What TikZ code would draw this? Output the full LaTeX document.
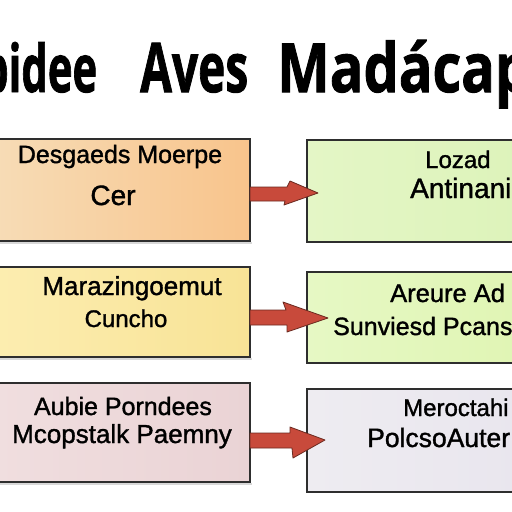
\documentclass[tikz,border=0pt]{standalone}
\usepackage{fontspec}
\setmainfont{Liberation Sans}[FakeBold=1.3]
\newfontfamily\titlefont{Open Sans}[FakeBold=1.5]
\usepackage{graphicx}
\definecolor{boxline}{HTML}{2E2E2E}
\definecolor{orL}{HTML}{F7DCB6}
\definecolor{orR}{HTML}{F8C48C}
\definecolor{grA}{HTML}{E4F6C6}
\definecolor{grB}{HTML}{DDF3BA}
\definecolor{yeL}{HTML}{FCEDB0}
\definecolor{yeR}{HTML}{F8E396}
\definecolor{gr2A}{HTML}{E6F8C4}
\definecolor{gr2B}{HTML}{E0F5B4}
\definecolor{piL}{HTML}{F0DEDF}
\definecolor{piR}{HTML}{EAD3D5}
\definecolor{laA}{HTML}{EEECF1}
\definecolor{laB}{HTML}{E9E6EE}
\definecolor{arrfill}{HTML}{C84A3B}
\definecolor{arrline}{HTML}{6B2A20}
\definecolor{shadowc}{HTML}{D8D8D8}
\begin{document}
\begin{tikzpicture}[x=1pt,y=-1pt,
  box/.style={draw=boxline, line width=1.3pt, inner sep=0pt, outer sep=0pt, anchor=north west},
  shadowline/.style={draw=shadowc, line width=2pt},
  blockarrow/.style={fill=arrfill, draw=arrline, line width=0.8pt, line join=round},
  txt/.style={inner sep=0pt, anchor=base, text=black},
  rtxt/.style={inner sep=0pt, anchor=base west, text=black},
  ttl/.style={inner sep=0pt, anchor=base west, text=black}]
\useasboundingbox (0,0) rectangle (512,512);
\clip (0,0) rectangle (512,512);
\fill[white] (0,0) rectangle (512,512);
% title
\node[ttl] (t1) at (-18,92) {\resizebox{115pt}{50pt}{\titlefont\bfseries bidee}};
\node[ttl] (t2) at (140,92) {\resizebox{108pt}{49pt}{\titlefont\bfseries Aves}};
\node[ttl] (t3) at (277,92) {\resizebox{253pt}{52pt}{\titlefont\bfseries Madácap}};
% boxes
\node[box, left color=orL, right color=orR, minimum width=255pt, minimum height=102pt] (l1) at (-5,139) {};
\node[box, left color=grA, right color=grB, minimum width=215pt, minimum height=102pt] (r1) at (307,140) {};
\node[box, left color=yeL, right color=yeR, minimum width=255pt, minimum height=90pt] (l2) at (-5,267) {};
\node[box, left color=gr2A, right color=gr2B, minimum width=215pt, minimum height=91pt] (r2) at (307,272) {};
\node[box, left color=piL, right color=piR, minimum width=255pt, minimum height=99pt] (l3) at (-5,383) {};
\node[box, left color=laA, right color=laB, minimum width=215pt, minimum height=103pt] (r3) at (307,389) {};
% faint shadows under the left boxes
\draw[shadowline] ([yshift=-2pt]l1.south west) -- ([yshift=-2pt,xshift=2pt]l1.south east);
\draw[shadowline] ([yshift=-2pt]l2.south west) -- ([yshift=-2pt,xshift=2pt]l2.south east);
\draw[shadowline] ([yshift=-2pt]l3.south west) -- ([yshift=-2pt,xshift=2pt]l3.south east);
% arrows
\draw[blockarrow] (l1.east |- 0,187) -- (287,187) -- (290,181) -- (318,193) -- (284,205) -- (285,201) -- (l1.east |- 0,201) -- cycle;
\draw[blockarrow] (l2.east |- 0,310) -- (286,310) -- (283,302) -- (328,318) -- (287,332) -- (287,325) -- (l2.east |- 0,325) -- cycle;
\draw[blockarrow] (l3.east |- 0,433) -- (290,433) -- (290,427) -- (325,440) -- (293,458) -- (292,448) -- (l3.east |- 0,448) -- cycle;
% texts
\node[txt, font=\fontsize{25}{25}\selectfont] (a1) at (120,163) {Desgaeds Moerpe};
\node[txt, font=\fontsize{28}{28}\selectfont] (a2) at (113,205) {Cer};
\node[rtxt, font=\fontsize{24}{24}\selectfont] (b1) at (425,168) {Lozad};
\node[rtxt, font=\fontsize{28}{28}\selectfont] (b2) at (410,198) {Antinani};
\node[txt, font=\fontsize{26}{26}\selectfont] (c1) at (132,295) {Marazingoemut};
\node[txt, font=\fontsize{24}{24}\selectfont] (c2) at (126,327) {Cuncho};
\node[rtxt, font=\fontsize{25.5}{25.5}\selectfont] (d1) at (390,302) {Areure Ad};
\node[rtxt, font=\fontsize{25}{25}\selectfont] (d2) at (333,335) {Sunviesd Pcanse};
\node[txt, font=\fontsize{25}{25}\selectfont] (e1) at (123,415) {Aubie Porndees};
\node[txt, font=\fontsize{26}{26}\selectfont] (e2) at (122,443) {Mcopstalk Paemny};
\node[rtxt, font=\fontsize{24}{24}\selectfont] (f1) at (403,416) {Meroctahi};
\node[rtxt, font=\fontsize{26.5}{26.5}\selectfont] (f2) at (367,447) {PolcsoAuter};
\end{tikzpicture}
\end{document}
